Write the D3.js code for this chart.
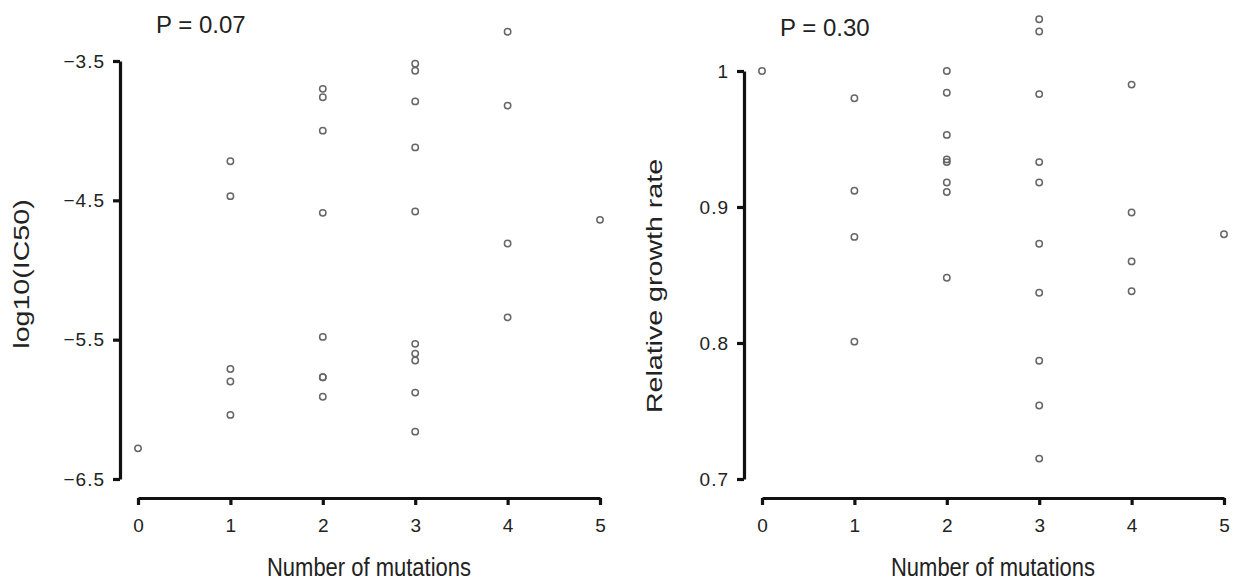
<!DOCTYPE html>
<html>
<head>
<meta charset="utf-8">
<script src="https://cdn.jsdelivr.net/npm/d3@7"></script>
<style>
  body { margin: 0; background: #fff; }
  svg text { font-family: "Liberation Sans", Arial, Helvetica, sans-serif; fill: #222; }
  .axis path, .axis line { stroke: #111; stroke-width: 3.2px; }
</style>
</head>
<body>
<div id="chart"></div>
<script>
// mutations count / log10(IC50) per strain
var ic50Mut = [0,
  1, 1, 1, 1, 1,
  2, 2, 2, 2, 2, 2, 2, 2,
  3, 3, 3, 3, 3, 3, 3, 3, 3, 3,
  4, 4, 4, 4,
  5];
var ic50Val = [-6.28,
  -4.22, -4.47, -5.71, -5.80, -6.04,
  -3.70, -3.76, -4.00, -4.59, -5.48, -5.77, -5.77, -5.91,
  -3.52, -3.57, -3.79, -4.12, -4.58, -5.53, -5.60, -5.65, -5.88, -6.16,
  -3.29, -3.82, -4.81, -5.34,
  -4.64];

// mutations count / relative growth rate
var growthMut = [0,
  1, 1, 1, 1,
  2, 2, 2, 2, 2, 2, 2, 2,
  3, 3, 3, 3, 3, 3, 3, 3, 3, 3,
  4, 4, 4, 4,
  5];
var growthVal = [1.0,
  0.980, 0.912, 0.878, 0.801,
  1.000, 0.984, 0.953, 0.935, 0.933, 0.918, 0.911, 0.848,
  1.038, 1.029, 0.983, 0.933, 0.918, 0.873, 0.837, 0.787, 0.754, 0.715,
  0.990, 0.896, 0.860, 0.838,
  0.880];

var xTicks = [0, 1, 2, 3, 4, 5];
var ic50Ticks = [-6.5, -5.5, -4.5, -3.5];
var growthTicks = [0.7, 0.8, 0.9, 1];

var width = 1233, height = 584;
var svg = d3.select("#chart").append("svg")
  .attr("width", width)
  .attr("height", height);

function panel(opt) {
  var g = svg.append("g");

  var x = d3.scaleLinear().domain([0, 5]).range([opt.x0, opt.x0 + 462]);
  var y = d3.scaleLinear().domain(opt.yDomain).range([479, opt.yTop]);

  // y axis, R style: offset from the data, ticks only over the tick range
  var yAxis = g.append("g")
    .attr("class", "axis")
    .attr("transform", "translate(" + (opt.x0 - 18) + ",0)")
    .call(d3.axisLeft(y).tickValues(opt.yTicks).tickSize(7).tickSizeOuter(0)
      .tickPadding(8).tickFormat(opt.yFormat));

  var xAxis = g.append("g")
    .attr("class", "axis")
    .attr("transform", "translate(0,498)")
    .call(d3.axisBottom(x).tickValues(xTicks).tickSize(7).tickSizeOuter(0)
      .tickPadding(9).tickFormat(d3.format("d")));

  [yAxis, xAxis].forEach(function(a) {
    a.selectAll(".tick text")
      .style("font-size", "19px")
      .attr("fill", "#333");
  });
  yAxis.selectAll(".tick text").style("letter-spacing", "1px");
  xAxis.selectAll(".tick text").attr("dy", "0.95em");

  g.append("g")
    .selectAll("circle")
    .data(opt.vals)
    .enter().append("circle")
    .attr("cx", function(d, i) { return x(opt.muts[i]); })
    .attr("cy", function(d) { return y(d); })
    .attr("r", 3.2)
    .attr("fill", "none")
    .attr("stroke", "#666")
    .attr("stroke-width", 1.5);

  // x title
  g.append("text")
    .attr("transform", "translate(" + (opt.x0 + 231) + ",576) scale(1,1.2)")
    .attr("text-anchor", "middle")
    .style("font-size", "22px")
    .text("Number of mutations");

  // y title (stretched along its length like the source)
  g.append("text")
    .attr("transform", "translate(" + opt.yLabX + "," + opt.yLabY + ") scale(1,1.3) rotate(-90)")
    .attr("text-anchor", "middle")
    .style("font-size", "22px")
    .text(opt.yLabel);

  g.append("text")
    .attr("x", opt.pX)
    .attr("y", opt.pY)
    .style("font-size", "24px")
    .text(opt.pText);
}

panel({
  x0: 138,
  yDomain: [-6.5, -3.5], yTop: 61,
  yTicks: ic50Ticks, yFormat: d3.format(".1f"),
  muts: ic50Mut, vals: ic50Val,
  yLabel: "log10(IC50)", yLabX: 29, yLabY: 274,
  pText: "P = 0.07", pX: 156, pY: 33
});

panel({
  x0: 762,
  yDomain: [0.7, 1.0], yTop: 71,
  yTicks: growthTicks, yFormat: function(d) { return String(d); },
  muts: growthMut, vals: growthVal,
  yLabel: "Relative growth rate", yLabX: 662, yLabY: 286,
  pText: "P = 0.30", pX: 780, pY: 36
});
</script>
</body>
</html>
